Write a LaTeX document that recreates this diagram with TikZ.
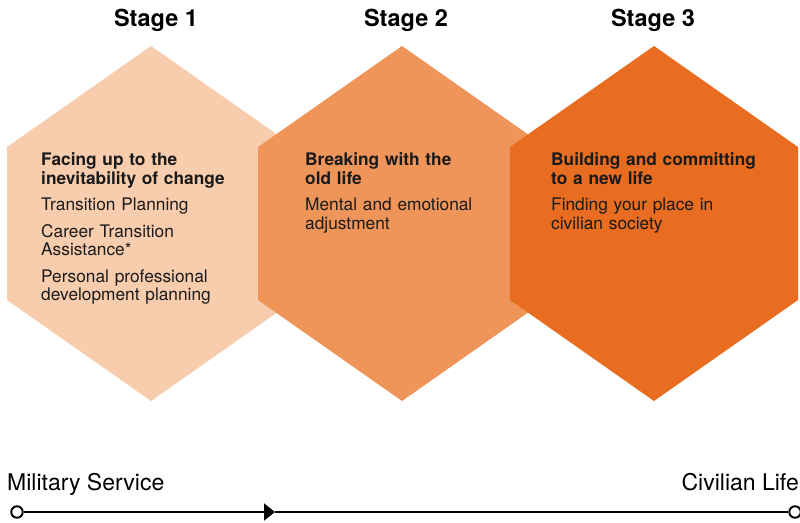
\documentclass[tikz,border=0pt]{standalone}
\usepackage{fontspec}
\setmainfont{TeX Gyre Heros}
\usetikzlibrary{arrows.meta}
\definecolor{stagelight}{RGB}{248,205,174}
\definecolor{stagemid}{RGB}{240,149,90}
\definecolor{stagedark}{RGB}{232,109,32}
\definecolor{inktext}{RGB}{26,26,26}
\begin{document}
\begin{tikzpicture}[x=1pt,y=-1pt,
  stagetitle/.style={anchor=base, inner sep=0pt, font=\fontsize{23.5}{27}\selectfont\bfseries},
  hexbody/.style={anchor=base west, inner sep=0pt, text width=240pt, align=left,
    text=inktext, font=\fontsize{17.3}{18.5}\selectfont},
  endlabel/.style={inner sep=0pt, font=\fontsize{23}{27}\selectfont},
  tl/.style={line width=1.9pt},
  enddot/.style={circle, draw, fill=white, line width=1.9pt, minimum size=11.5pt, inner sep=0pt}]
\useasboundingbox (0,0) rectangle (800,522);

% hexagon outline around a centre at (#1, 223.5)
\newcommand{\stagehex}[2]{%
  \fill[#2] (#1,46) -- (#1+144,147) -- (#1+144,300) -- (#1,401)
            -- (#1-144,300) -- (#1-144,147) -- cycle;}

\stagehex{151}{stagelight}
\stagehex{402}{stagemid}
\stagehex{654}{stagedark}

% stage titles
\node[stagetitle] (s1) at (156,26) {Stage 1};
\node[stagetitle] (s2) at (406,26) {Stage 2};
\node[stagetitle] (s3) at (653,26) {Stage 3};

% hexagon contents
\node[hexbody] (t1) at (41,165.7) {\textbf{Facing up to the}\\\textbf{inevitability of change}\\[8pt]
  Transition Planning\\[8pt]
  Career Transition\\Assistance*\\[8pt]
  Personal professional\\development planning};
\node[hexbody] (t2) at (305,165.7) {\textbf{Breaking with the}\\\textbf{old life}\\[8pt]
  Mental and emotional\\adjustment};
\node[hexbody] (t3) at (551,165.7) {\textbf{Building and committing}\\\textbf{to a new life}\\[8pt]
  Finding your place in\\civilian society};

% timeline
\node[endlabel, anchor=base west] (ms) at (7,490) {Military Service};
\node[endlabel, anchor=base east] (cl) at (799,490) {Civilian Life};
\node[enddot] (start) at (17,512) {};
\node[enddot] (finish) at (795,512) {};
\coordinate (mid) at (275,512);
\draw[tl, -{Triangle[length=11pt,width=17pt]}] (start) -- (mid);
\draw[tl] (mid) -- (finish);
\end{tikzpicture}
\end{document}
